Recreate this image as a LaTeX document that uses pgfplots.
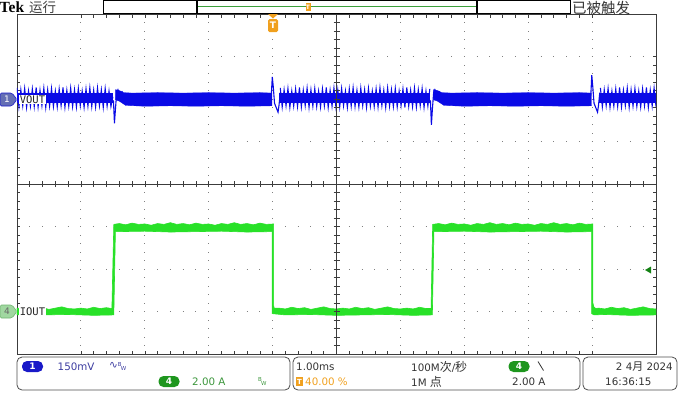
\documentclass[border=0pt]{standalone}
\usepackage{pgfplots}
\pgfplotsset{compat=1.18}
\usepackage{fontspec}
\setmainfont{DejaVu Sans}
\newfontfamily\cjk{Noto Sans CJK SC}
\newfontfamily\monof{DejaVu Sans Mono}
\newfontfamily\tekf{Liberation Serif}
\definecolor{trblue}{RGB}{10,10,230}
\definecolor{trgreen}{RGB}{40,225,40}
\definecolor{chblue}{RGB}{25,25,200}
\definecolor{txtblue}{RGB}{60,60,160}
\definecolor{chgreen}{RGB}{30,150,30}
\definecolor{txtgreen}{RGB}{60,150,60}
\definecolor{trigor}{RGB}{240,160,30}
\definecolor{framec}{RGB}{60,60,60}
\definecolor{mk1fill}{RGB}{100,110,180}
\definecolor{mk4fill}{RGB}{160,215,160}
\definecolor{mk4draw}{RGB}{110,180,110}
\definecolor{trigarrow}{RGB}{20,130,20}
\definecolor{barline}{RGB}{60,160,60}
\begin{document}
\begin{tikzpicture}[x=1pt,y=1pt]
\path[use as bounding box] (0,0) rectangle (680,-408);
% ---------------- main graticule + traces ----------------
\begin{axis}[at={(17pt,-354pt)}, anchor=south west, width=639pt, height=340pt, scale only axis,
  xmin=-5, xmax=5, ymin=-4, ymax=4,
  xtick={-4,...,4}, ytick={-3,...,3}, xticklabels={}, yticklabels={},
  minor x tick num=4, minor y tick num=4,
  tick align=inside, major tick length=3.5pt, minor tick length=3.5pt,
  tick style={framec, line width=0.6pt},
  axis line style={framec, line width=0.9pt},
  xmajorgrids, ymajorgrids,
  major x grid style={black!50, line width=0.9pt, dash pattern=on 0.9pt off 7.6pt, dash phase=0.45pt},
  major y grid style={black!50, line width=0.9pt, dash pattern=on 0.9pt off 11.88pt, dash phase=0.45pt}]
% ---- VOUT (blue) ----
% noisy cores
\addplot[fill=trblue, draw=none] coordinates {(-5,1.90) (-3.5,1.90) (-3.5,2.14) (-5,2.14)} -- cycle;
\addplot[fill=trblue, draw=none] coordinates {(-0.90,1.90) (1.47,1.90) (1.47,2.14) (-0.90,2.14)} -- cycle;
\addplot[fill=trblue, draw=none] coordinates {(4.10,1.90) (5,1.90) (5,2.14) (4.10,2.14)} -- cycle;
% noisy spikes
\addplot[trblue, line width=1.05pt] coordinates {
(-5.00,2.26) (-4.97,1.81) (-4.94,2.22) (-4.91,1.84) (-4.88,2.25) (-4.85,1.80) (-4.82,2.19) (-4.79,1.83)
(-4.76,2.24) (-4.73,1.82) (-4.70,2.27) (-4.67,1.81) (-4.64,2.21) (-4.61,1.84) (-4.58,2.26) (-4.55,1.80)
(-4.52,2.22) (-4.49,1.83) (-4.46,2.25) (-4.43,1.82) (-4.40,2.19) (-4.37,1.81) (-4.34,2.24) (-4.31,1.84)
(-4.28,2.27) (-4.25,1.80) (-4.22,2.21) (-4.19,1.83) (-4.16,2.26) (-4.13,1.82) (-4.10,2.22) (-4.07,1.81)
(-4.04,2.25) (-4.01,1.84) (-3.98,2.19) (-3.95,1.80) (-3.92,2.24) (-3.89,1.83) (-3.86,2.27) (-3.83,1.82)
(-3.80,2.21) (-3.77,1.81) (-3.74,2.26) (-3.71,1.84) (-3.68,2.22) (-3.65,1.80) (-3.62,2.25) (-3.59,1.83)
(-3.56,2.19) (-3.53,1.82) (-3.50,2.05)};
\addplot[trblue, line width=1.05pt] coordinates {
(-0.88,2.26) (-0.85,1.81) (-0.82,2.22) (-0.79,1.84) (-0.76,2.25) (-0.73,1.80) (-0.70,2.19) (-0.67,1.83)
(-0.64,2.24) (-0.61,1.82) (-0.58,2.27) (-0.55,1.81) (-0.52,2.21) (-0.49,1.84) (-0.46,2.26) (-0.43,1.80)
(-0.40,2.22) (-0.37,1.83) (-0.34,2.25) (-0.31,1.82) (-0.28,2.19) (-0.25,1.81) (-0.22,2.24) (-0.19,1.84)
(-0.16,2.27) (-0.13,1.80) (-0.10,2.21) (-0.07,1.83) (-0.04,2.26) (-0.01,1.82) (0.02,2.22) (0.05,1.81)
(0.08,2.25) (0.11,1.84) (0.14,2.19) (0.17,1.80) (0.20,2.24) (0.23,1.83) (0.26,2.27) (0.29,1.82)
(0.32,2.21) (0.35,1.81) (0.38,2.26) (0.41,1.84) (0.44,2.22) (0.47,1.80) (0.50,2.25) (0.53,1.83)
(0.56,2.19) (0.59,1.82) (0.62,2.24) (0.65,1.81) (0.68,2.27) (0.71,1.84) (0.74,2.21) (0.77,1.80)
(0.80,2.26) (0.83,1.83) (0.86,2.22) (0.89,1.82) (0.92,2.25) (0.95,1.81) (0.98,2.19) (1.01,1.84)
(1.04,2.24) (1.07,1.80) (1.10,2.27) (1.13,1.83) (1.16,2.21) (1.19,1.82) (1.22,2.26) (1.25,1.81)
(1.28,2.22) (1.31,1.84) (1.34,2.25) (1.37,1.80) (1.40,2.19) (1.43,1.83) (1.46,2.24)};
\addplot[trblue, line width=1.05pt] coordinates {
(4.13,2.26) (4.16,1.81) (4.19,2.22) (4.22,1.84) (4.25,2.25) (4.28,1.80) (4.31,2.19) (4.34,1.83)
(4.37,2.24) (4.40,1.82) (4.43,2.27) (4.46,1.81) (4.49,2.21) (4.52,1.84) (4.55,2.26) (4.58,1.80)
(4.61,2.22) (4.64,1.83) (4.67,2.25) (4.70,1.82) (4.73,2.19) (4.76,1.81) (4.79,2.24) (4.82,1.84)
(4.85,2.27) (4.88,1.80) (4.91,2.21) (4.94,1.83) (4.97,2.26) (5.00,1.82)};
% tight bands
\addplot[fill=trblue, draw=trblue, line width=0.3pt] coordinates {
(-3.46,2.22) (-3.40,2.20) (-3.33,2.15) (-3.2,2.14) (-2.8,2.15) (-2.4,2.14) (-2.0,2.15) (-1.6,2.14) (-1.2,2.15) (-1.01,2.14)
(-1.01,1.84) (-1.4,1.83) (-1.8,1.84) (-2.2,1.83) (-2.6,1.84) (-3.0,1.83) (-3.3,1.85) (-3.40,1.95) (-3.46,1.98)} -- cycle;
\addplot[fill=trblue, draw=trblue, line width=0.3pt] coordinates {
(1.52,2.22) (1.58,2.20) (1.65,2.15) (1.8,2.14) (2.2,2.15) (2.6,2.14) (3.0,2.15) (3.4,2.14) (3.8,2.15) (3.99,2.14)
(3.99,1.84) (3.6,1.83) (3.2,1.84) (2.8,1.83) (2.4,1.84) (2.0,1.83) (1.68,1.85) (1.58,1.95) (1.52,1.98)} -- cycle;
% transients
\addplot[trblue, line width=1.1pt] coordinates {(-3.52,2.0) (-3.49,1.95) (-3.475,1.43) (-3.46,1.75) (-3.44,2.15) (-3.42,2.22) (-3.39,2.12) (-3.35,2.18)};
\addplot[trblue, line width=1.1pt] coordinates {(-1.04,2.0) (-1.02,2.1) (-1.005,2.52) (-0.99,2.3) (-0.97,1.9) (-0.915,1.69) (-0.90,1.85) (-0.88,2.15)};
\addplot[trblue, line width=1.1pt] coordinates {(1.44,2.0) (1.47,1.95) (1.485,1.39) (1.50,1.75) (1.52,2.15) (1.54,2.22) (1.57,2.12) (1.61,2.18)};
\addplot[trblue, line width=1.1pt] coordinates {(3.96,2.0) (3.98,2.1) (3.995,2.56) (4.01,2.3) (4.03,1.9) (4.085,1.69) (4.10,1.85) (4.12,2.15)};
% ---- IOUT (green) ----
\addplot[fill=trgreen, draw=trgreen, line width=0.6pt] coordinates {
(-5.0,-2.92) (-4.9,-2.94) (-4.8,-2.90) (-4.7,-2.93) (-4.6,-2.91) (-4.5,-2.95) (-4.4,-2.92) (-4.3,-2.89)
(-4.2,-2.93) (-4.1,-2.94) (-4.0,-2.92) (-3.9,-2.94) (-3.8,-2.90) (-3.7,-2.93) (-3.6,-2.91) (-3.515,-2.93)
(-3.485,-0.95) (-3.4,-0.93) (-3.3,-0.96) (-3.2,-0.92) (-3.1,-0.95) (-3.0,-0.94) (-2.9,-0.97) (-2.8,-0.93)
(-2.7,-0.95) (-2.6,-0.91) (-2.5,-0.95) (-2.4,-0.93) (-2.3,-0.96) (-2.2,-0.92) (-2.1,-0.95) (-2.0,-0.94)
(-1.9,-0.97) (-1.8,-0.93) (-1.7,-0.95) (-1.6,-0.91) (-1.5,-0.95) (-1.4,-0.93) (-1.3,-0.96) (-1.2,-0.92)
(-1.1,-0.95) (-0.985,-0.94) (-0.985,-2.85) (-0.975,-2.92)
(-0.9,-2.92) (-0.8,-2.94) (-0.7,-2.90) (-0.6,-2.93) (-0.5,-2.91) (-0.4,-2.95) (-0.3,-2.92) (-0.2,-2.89)
(-0.1,-2.93) (0.0,-2.94) (0.1,-2.92) (0.2,-2.94) (0.3,-2.90) (0.4,-2.93) (0.5,-2.91) (0.6,-2.95)
(0.7,-2.92) (0.8,-2.89) (0.9,-2.93) (1.0,-2.94) (1.1,-2.92) (1.2,-2.94) (1.3,-2.90) (1.4,-2.93) (1.48,-2.93)
(1.505,-0.95) (1.6,-0.93) (1.7,-0.96) (1.8,-0.92) (1.9,-0.95) (2.0,-0.94) (2.1,-0.97) (2.2,-0.93)
(2.3,-0.95) (2.4,-0.91) (2.5,-0.95) (2.6,-0.93) (2.7,-0.96) (2.8,-0.92) (2.9,-0.95) (3.0,-0.94)
(3.1,-0.97) (3.2,-0.93) (3.3,-0.95) (3.4,-0.91) (3.5,-0.95) (3.6,-0.93) (3.7,-0.96) (3.8,-0.92)
(3.9,-0.95) (4.012,-0.94) (4.012,-2.80) (4.03,-2.90) (4.06,-2.93)
(4.1,-2.92) (4.2,-2.94) (4.3,-2.90) (4.4,-2.93) (4.5,-2.91) (4.6,-2.95) (4.7,-2.92) (4.8,-2.89) (4.9,-2.93) (5.0,-2.94)
(5.0,-3.08) (4.6,-3.09) (4.2,-3.07) (4.03,-3.08) (3.992,-3.05) (3.992,-1.12)
(3.6,-1.13) (3.2,-1.11) (2.8,-1.12) (2.4,-1.13) (2.0,-1.11) (1.6,-1.12) (1.525,-1.12) (1.50,-3.08)
(1.2,-3.09) (0.8,-3.07) (0.4,-3.08) (0.0,-3.09) (-0.4,-3.07) (-0.8,-3.08) (-1.007,-3.05) (-1.007,-1.12)
(-1.4,-1.13) (-1.8,-1.11) (-2.2,-1.12) (-2.6,-1.13) (-3.0,-1.11) (-3.4,-1.12) (-3.46,-1.12) (-3.485,-3.08)
(-3.8,-3.09) (-4.2,-3.07) (-4.6,-3.08) (-5.0,-3.08)} -- cycle;
\end{axis}
% ---------------- centre cross ----------------
\begin{axis}[at={(17pt,-354pt)}, anchor=south west, width=639pt, height=340pt, scale only axis,
  xmin=-5, xmax=5, ymin=-4, ymax=4, axis lines=center,
  axis line style={-, framec, line width=0.9pt},
  xtick={-4.8,-4.6,...,4.9}, ytick={-3.8,-3.6,...,3.9}, xticklabels={}, yticklabels={},
  tick align=center, major tick length=6pt, tick style={framec, line width=0.6pt}]
\end{axis}
% ---------------- labels inside screen ----------------
\node[anchor=west, fill=white, inner sep=0.6pt, font=\monof\fontsize{10.5}{11}\selectfont, text=black!85] at (19,-99.5) {VOUT};
\node[anchor=west, fill=white, inner sep=0.6pt, font=\monof\fontsize{10.5}{11}\selectfont, text=black!85] at (19,-311.5) {IOUT};
\draw[fill=mk1fill, draw=chblue, line width=0.6pt, rounded corners=1.5pt] (0,-93) -- (12,-93) -- (17,-99.5) -- (12,-106) -- (0,-106) -- cycle;
\node[font=\fontsize{9}{9}\selectfont, text=white] at (7,-99.5) {1};
\draw[fill=mk4fill, draw=mk4draw, line width=0.6pt, rounded corners=1.5pt] (0,-305) -- (12,-305) -- (17,-311.5) -- (12,-318) -- (0,-318) -- cycle;
\node[font=\fontsize{9}{9}\selectfont, text=black!60] at (7,-311.5) {4};
\fill[trigarrow] (651,-266.5) -- (651,-273.5) -- (645,-270) -- cycle;
% trigger position marker
\fill[trigor] (268,-14) -- (278,-14) -- (273,-18.5) -- cycle;
\node[fill=trigor, rounded corners=1.5pt, minimum width=10pt, minimum height=13pt, inner sep=0pt, text=white, font=\bfseries\fontsize{9}{9}\selectfont] at (273,-25.5) {T};
% ---------------- top bar ----------------
\node[anchor=west, inner sep=0pt, font=\tekf\bfseries\fontsize{15.5}{16}\selectfont] at (-0.5,-7) {Tek};
\node[anchor=west, inner sep=0pt, font=\cjk\fontsize{13.5}{14}\selectfont, text=black!75] at (29,-7.5) {运行};
\draw[black, line width=0.8pt] (103,-0.5) rectangle (570,-13);
\draw[black, line width=1.6pt] (197,-0.5) -- (197,-13) (477,-0.5) -- (477,-13);
\draw[barline, line width=0.8pt] (198,-6) -- (476,-6);
\node[fill=trigor, inner sep=0pt, minimum width=5pt, minimum height=8pt, text=white, font=\bfseries\fontsize{6}{6}\selectfont] at (308,-7) {T};
\node[anchor=west, inner sep=0pt, font=\cjk\fontsize{14.5}{15}\selectfont, text=black!80] at (572,-7.5) {已被触发};
% ---------------- bottom info boxes ----------------
\draw[black!70, line width=0.8pt, rounded corners=5pt] (17,-357) rectangle (290,-390);
\draw[black!70, line width=0.8pt, rounded corners=5pt] (293,-357) rectangle (580,-390);
\draw[black!70, line width=0.8pt, rounded corners=5pt] (583,-357) rectangle (677,-390);
\node[fill=chblue, rounded corners=5pt, minimum width=21pt, minimum height=11pt, inner sep=0pt, text=white, font=\bfseries\fontsize{9}{9}\selectfont] at (32.5,-366.5) {1};
\node[anchor=west, inner sep=0pt, font=\fontsize{10.3}{12}\selectfont, text=txtblue] at (57.5,-366.5) {150mV};
\node[anchor=west, inner sep=0pt, font=\fontsize{10.5}{12}\selectfont, text=txtblue] at (109,-366.5) {∿\raisebox{2pt}{\fontsize{5.5}{5.5}\selectfont B}\kern-0.8pt\raisebox{-2pt}{\fontsize{5.5}{5.5}\selectfont W}};
\node[fill=chgreen, rounded corners=5pt, minimum width=21pt, minimum height=11pt, inner sep=0pt, text=white, font=\bfseries\fontsize{9}{9}\selectfont] at (169,-381.5) {4};
\node[anchor=west, inner sep=0pt, font=\fontsize{10.3}{12}\selectfont, text=txtgreen] at (192,-381.5) {2.00 A};
\node[anchor=west, inner sep=0pt, font=\fontsize{5.5}{5.5}\selectfont, text=txtgreen] at (258,-381.5) {\raisebox{2pt}{B}\kern-0.8pt\raisebox{-2pt}{W}};
\node[anchor=west, inner sep=0pt, font=\fontsize{10.3}{12}\selectfont, text=black!80] at (296,-366.5) {1.00ms};
\node[fill=trigor, inner sep=0pt, minimum width=7pt, minimum height=9pt, text=white, font=\bfseries\fontsize{7}{7}\selectfont] at (299.5,-381.5) {T};
\node[anchor=west, inner sep=0pt, font=\fontsize{10.3}{12}\selectfont, text=trigor] at (305,-381.5) {40.00 \%};
\node[anchor=west, inner sep=0pt, font=\fontsize{10.3}{12}\selectfont, text=black!80] at (411,-366.5) {100M{\cjk\fontsize{12}{12}\selectfont 次}/{\cjk\fontsize{12}{12}\selectfont 秒}};
\node[anchor=west, inner sep=0pt, font=\fontsize{10.3}{12}\selectfont, text=black!80] at (411,-381.5) {1M {\cjk\fontsize{12}{12}\selectfont 点}};
\node[fill=chgreen, rounded corners=5pt, minimum width=21pt, minimum height=11pt, inner sep=0pt, text=white, font=\bfseries\fontsize{9}{9}\selectfont] at (519,-366.5) {4};
\draw[black!80, line width=0.8pt] (538,-361.5) -- (543.5,-370.5);
\node[anchor=west, inner sep=0pt, font=\fontsize{10.3}{12}\selectfont, text=black!80] at (512,-381.5) {2.00 A};
\node[anchor=east, inner sep=0pt, font=\fontsize{10.3}{12}\selectfont, text=black!80] at (673,-366.5) {2 4{\cjk\fontsize{11}{12}\selectfont 月} 2024};
\node[anchor=west, inner sep=0pt, font=\fontsize{10.3}{12}\selectfont, text=black!80] at (605,-381.5) {16:36:15};
\end{tikzpicture}
\end{document}
